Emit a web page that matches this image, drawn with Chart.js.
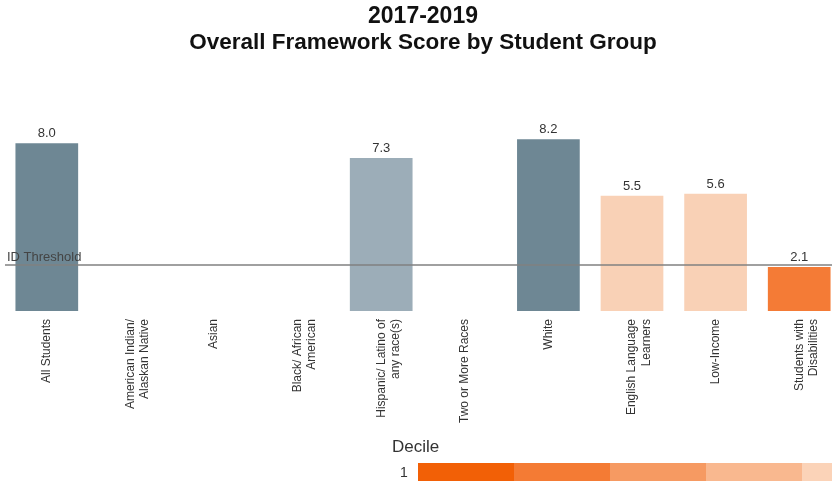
<!DOCTYPE html>
<html>
<head>
<meta charset="utf-8">
<script src="https://cdn.jsdelivr.net/npm/chart.js@4"></script>
<style>
  body { margin: 0; overflow: hidden; background: #fff; }
  #wrap { position: relative; width: 842px; height: 481px; }
  #decile { position: absolute; left: 392px; top: 437px; font: 17px 'Liberation Sans', Arial, sans-serif; color: #333; }
  #decileRow { position: absolute; left: 400px; top: 463px; display: flex; align-items: flex-start; }
  #decileRow span { font: 14px 'Liberation Sans', Arial, sans-serif; color: #333; width: 18px; margin-top: 1px; }
  #decileRow div { width: 96px; height: 20px; }
</style>
</head>
<body>
<div id="wrap">
  <canvas id="chart" width="842" height="481"></canvas>
  <div id="decile">Decile</div>
  <div id="decileRow"><span>1</span></div>
</div>
<script>
const groups = [
  'All Students',
  ['American Indian/', 'Alaskan Native'],
  'Asian',
  ['Black/ African', 'American'],
  ['Hispanic/ Latino of', 'any race(s)'],
  'Two or More Races',
  'White',
  ['English Language', 'Learners'],
  'Low-Income',
  ['Students with', 'Disabilities']
]
const scores = [8.0, null, null, null, 7.3, null, 8.2, 5.5, 5.6, 2.1]
const barColors = ['#6e8794', '#6e8794', '#6e8794', '#6e8794', '#9cadb8', '#6e8794', '#6e8794', '#f9d1b6', '#f9d1b6', '#f47b36']
const idThreshold = 2.2
const decileColors = ['#f26006', '#f47b34', '#f69a62', '#f9b88f', '#fbd3b8']

const row = document.getElementById('decileRow')
decileColors.forEach(c => {
  const d = document.createElement('div')
  d.style.background = c
  row.appendChild(d)
})

const labelPlugin = {
  id: 'valueLabels',
  afterDatasetsDraw (chart) {
    const { ctx } = chart
    const meta = chart.getDatasetMeta(0)
    ctx.save()
    ctx.font = '13px "Liberation Sans", Arial, sans-serif'
    ctx.fillStyle = '#333'
    ctx.textAlign = 'center'
    ctx.textBaseline = 'bottom'
    meta.data.forEach((bar, i) => {
      if (scores[i] === null) return
      ctx.fillText(scores[i].toFixed(1), bar.x, bar.y - 3)
    })
    ctx.restore()
  }
}

const thresholdPlugin = {
  id: 'threshold',
  afterDatasetsDraw (chart) {
    const { ctx } = chart
    const y = chart.scales.y.getPixelForValue(idThreshold)
    ctx.save()
    ctx.strokeStyle = '#808080'
    ctx.lineWidth = 1.5
    ctx.beginPath()
    ctx.moveTo(5, y)
    ctx.lineTo(chart.width, y)
    ctx.stroke()
    ctx.font = '13px "Liberation Sans", Arial, sans-serif'
    ctx.fillStyle = '#444'
    ctx.textAlign = 'left'
    ctx.textBaseline = 'bottom'
    ctx.fillText('ID Threshold', 7, y - 1)
    ctx.restore()
  }
}

// eslint-disable-next-line no-new
new Chart(document.getElementById('chart'), {
  type: 'bar',
  data: {
    labels: groups,
    datasets: [{
      data: scores,
      backgroundColor: barColors,
      categoryPercentage: 0.75,
      barPercentage: 1
    }]
  },
  options: {
    responsive: false,
    animation: false,
    layout: { padding: { left: 5, right: 1, top: 0, bottom: 0 } },
    plugins: {
      legend: { display: false },
      tooltip: { enabled: false },
      title: {
        display: true,
        text: '2017-2019',
        color: '#111',
        font: { family: '"Liberation Sans", Arial, sans-serif', size: 23, weight: 'bold', lineHeight: 1.15 },
        padding: { top: 3, bottom: 0 }
      },
      subtitle: {
        display: true,
        text: 'Overall Framework Score by Student Group',
        color: '#111',
        font: { family: '"Liberation Sans", Arial, sans-serif', size: 22.5, weight: 'bold', lineHeight: 1.2 },
        padding: { top: 0, bottom: 45 }
      }
    },
    scales: {
      y: {
        display: false,
        min: 0,
        max: 10
      },
      x: {
        grid: { display: false },
        border: { display: false },
        ticks: {
          color: '#333',
          font: { family: '"Liberation Sans", Arial, sans-serif', size: 12 },
          minRotation: 90,
          maxRotation: 90,
          autoSkip: false,
          padding: 0
        },
        afterFit (scale) { scale.height = 170 }
      }
    }
  },
  plugins: [labelPlugin, thresholdPlugin]
})
</script>
</body>
</html>
